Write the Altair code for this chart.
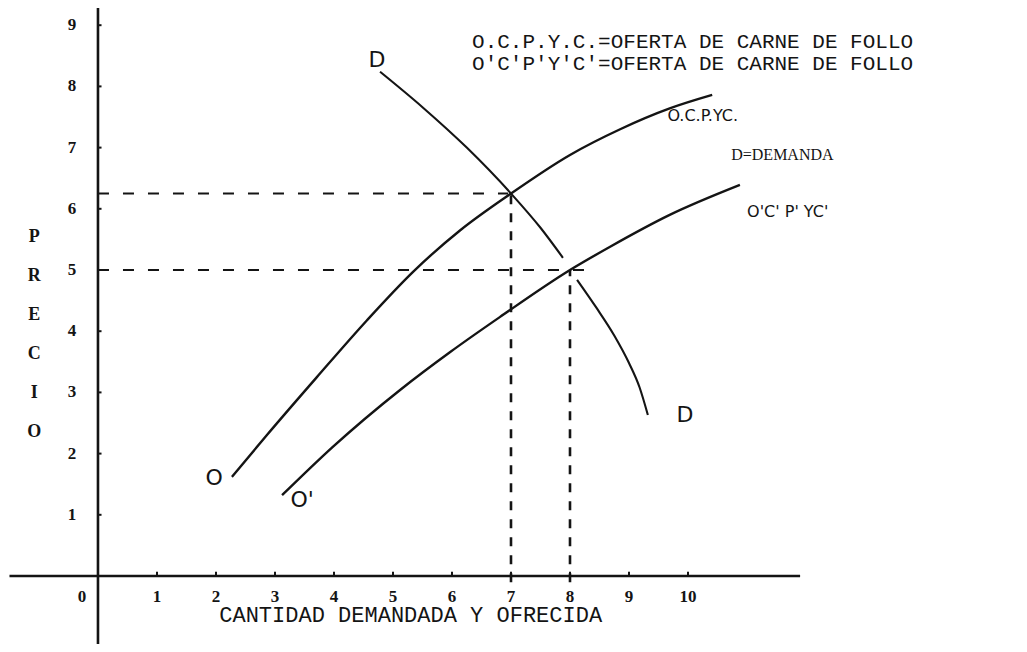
import altair as alt
import pandas as pd

# ---------------- data ----------------
# Supply curve O.C.P.Y.C.
s1_q = [2.27, 2.86, 3.71, 4.56, 5.34, 6.14, 7.0, 8.0, 8.85, 9.69, 10.41]
s1_p = [1.62, 2.30, 3.25, 4.18, 4.97, 5.65, 6.25, 6.88, 7.30, 7.64, 7.86]
# Supply curve O'C'P'Y'C'
s2_q = [3.12, 3.98, 5.12, 5.97, 6.81, 8.0, 8.68, 9.69, 10.88]
s2_p = [1.32, 2.11, 3.04, 3.66, 4.23, 5.0, 5.38, 5.90, 6.39]
# Demand curve D (drawn in two strokes, broken near the lower crossing)
d_q = [4.78, 5.5, 6.25, 7.0, 7.5, 7.88, 8.12, 8.45, 8.75, 9.0, 9.18, 9.32]
d_p = [8.24, 7.66, 7.0, 6.25, 5.69, 5.20, 4.84, 4.38, 3.93, 3.48, 3.08, 2.63]
d_seg = [1, 1, 1, 1, 1, 1, 2, 2, 2, 2, 2, 2]
# Equilibrium points and dashed guides
eq_q = [7, 8]
eq_p = [6.25, 5.0]
hdash_end = [6.95, 8.3]
# Axes ticks
x_ticks = [1, 2, 3, 4, 5, 6, 7, 8, 9, 10]
x_labels = ["1", "2", "3", "4", "5", "6", "7", "8", "9", "10"]
y_ticks = [1, 2, 3, 4, 5, 6, 7, 8, 9]
y_labels = ["1", "2", "3", "4", "5", "6", "7", "8", "9"]
# Curve labels
hand_text = ["D", "D", "O", "O'"]
hand_q = [4.73, 9.95, 1.97, 3.46]
hand_p = [8.43, 2.63, 1.60, 1.24]
curve_text = ["O.C.P.YC.", "O'C' P' YC'"]
curve_q = [10.25, 11.69]
curve_p = [7.52, 5.95]
legend_text = ["O.C.P.Y.C.=OFERTA DE CARNE DE FOLLO", "O'C'P'Y'C'=OFERTA DE CARNE DE FOLLO"]
legend_q = [6.34, 6.34]
legend_p = [8.72, 8.36]
dem_text = ["D=DEMANDA"]
dem_q = [11.6]
dem_p = [6.88]
y_title = "P\nR\nE\nC\nI\nO"
x_title = "CANTIDAD DEMANDADA Y OFRECIDA"

# ---------------- scales ----------------
xs = alt.Scale(domain=[-1.525, 15.61], nice=False, zero=False)
ys = alt.Scale(domain=[-1.111, 9.281], nice=False, zero=False)
INK = "#141414"


def X(f="q"):
    return alt.X(f"{f}:Q", scale=xs, axis=None)


def Y(f="p"):
    return alt.Y(f"{f}:Q", scale=ys, axis=None)


# axes lines
axes_df = pd.DataFrame({"q": [0, -1.5], "q2": [0, 11.9], "p": [-1.3, 0], "p2": [9.3, 0]})
axes = alt.Chart(axes_df).mark_rule(color=INK, strokeWidth=2.6).encode(
    x=X(), x2="q2:Q", y=Y(), y2="p2:Q")

tick_df = pd.DataFrame({"q": x_ticks, "p": [0] * len(x_ticks), "p2": [0.07] * len(x_ticks)})
ticks = alt.Chart(tick_df).mark_rule(color=INK, strokeWidth=2).encode(x=X(), y=Y(), y2="p2:Q")

ytick_df = pd.DataFrame({"q": [0] * len(y_ticks), "q2": [0.06] * len(y_ticks), "p": y_ticks})
yticks = alt.Chart(ytick_df).mark_rule(color=INK, strokeWidth=2).encode(x=X(), x2="q2:Q", y=Y())

# dashed guides
h_df = pd.DataFrame({"q": [0, 0], "q2": hdash_end, "p": eq_p})
hdash = alt.Chart(h_df).mark_rule(color=INK, strokeWidth=2.2, strokeDash=[11, 14]).encode(
    x=X(), x2="q2:Q", y=Y())
v_df = pd.DataFrame({"q": eq_q, "p": [-0.1, -0.1], "p2": eq_p})
vdash = alt.Chart(v_df).mark_rule(color=INK, strokeWidth=2.6, strokeDash=[9, 9]).encode(
    x=X(), y=Y(), y2="p2:Q")

# curves
sup_df = pd.concat([
    pd.DataFrame({"q": s1_q, "p": s1_p, "s": "OCPYC"}),
    pd.DataFrame({"q": s2_q, "p": s2_p, "s": "O'C'P'Y'C'"}),
])
supply = alt.Chart(sup_df).mark_line(color=INK, strokeWidth=2.4, interpolate="monotone").encode(
    x=X(), y=Y(), detail="s:N", order="q:Q")
dem_df = pd.DataFrame({"q": d_q, "p": d_p, "seg": d_seg})
demand = alt.Chart(dem_df).mark_line(color=INK, strokeWidth=2.1, interpolate="monotone").encode(
    x=X(), y=Y(), detail="seg:N", order="q:Q")

# tick labels
TICKFONT = dict(font="Liberation Serif", fontSize=17, fontWeight="bold", color=INK)
xl_df = pd.DataFrame({"q": x_ticks, "p": [0] * len(x_ticks), "t": x_labels})
xlab = alt.Chart(xl_df).mark_text(dy=21, **TICKFONT).encode(x=X(), y=Y(), text="t:N")
zero_df = pd.DataFrame({"q": [0], "p": [0], "t": ["0"]})
zlab = alt.Chart(zero_df).mark_text(dy=21, dx=-16, **TICKFONT).encode(x=X(), y=Y(), text="t:N")
yl_df = pd.DataFrame({"q": [0] * len(y_ticks), "p": y_ticks, "t": y_labels})
ylab = alt.Chart(yl_df).mark_text(dx=-26, **TICKFONT).encode(x=X(), y=Y(), text="t:N")

# curve labels
hand_df = pd.DataFrame({"q": hand_q, "p": hand_p, "t": hand_text})
hand = alt.Chart(hand_df).mark_text(font="DejaVu Sans", fontSize=22, color=INK).encode(
    x=X(), y=Y(), text="t:N")
cl_df = pd.DataFrame({"q": curve_q, "p": curve_p, "t": curve_text})
clab = alt.Chart(cl_df).mark_text(font="DejaVu Sans", fontSize=16, color=INK).encode(
    x=X(), y=Y(), text="t:N")
lg_df = pd.DataFrame({"q": legend_q, "p": legend_p, "t": legend_text})
lg = alt.Chart(lg_df).mark_text(font="Liberation Mono", fontSize=21, color=INK, align="left").encode(
    x=X(), y=Y(), text="t:N")
dm_df = pd.DataFrame({"q": dem_q, "p": dem_p, "t": dem_text})
dm = alt.Chart(dm_df).mark_text(font="Liberation Serif", fontSize=16, color=INK).encode(
    x=X(), y=Y(), text="t:N")

yt_df = pd.DataFrame({"q": [-1.08], "p": [5.54], "t": [y_title]})
ytitle = alt.Chart(yt_df).mark_text(font="Liberation Serif", fontSize=18, fontWeight="bold",
                                    color=INK, lineBreak="\n", lineHeight=39).encode(
    x=X(), y=Y(), text="t:N")
xt_df = pd.DataFrame({"q": [5.3], "p": [-0.64], "t": [x_title]})
xtitle = alt.Chart(xt_df).mark_text(font="Liberation Mono", fontSize=22, color=INK).encode(
    x=X(), y=Y(), text="t:N")

chart = alt.layer(
    axes, ticks, yticks, hdash, vdash, supply, demand,
    xlab, zlab, ylab, hand, clab, lg, dm, ytitle, xtitle,
).properties(
    width=1011, height=636, padding=0, autosize="none", background="white"
).configure_view(stroke=None)

chart.save("out.html", embed_options={"renderer": "svg", "actions": False})
